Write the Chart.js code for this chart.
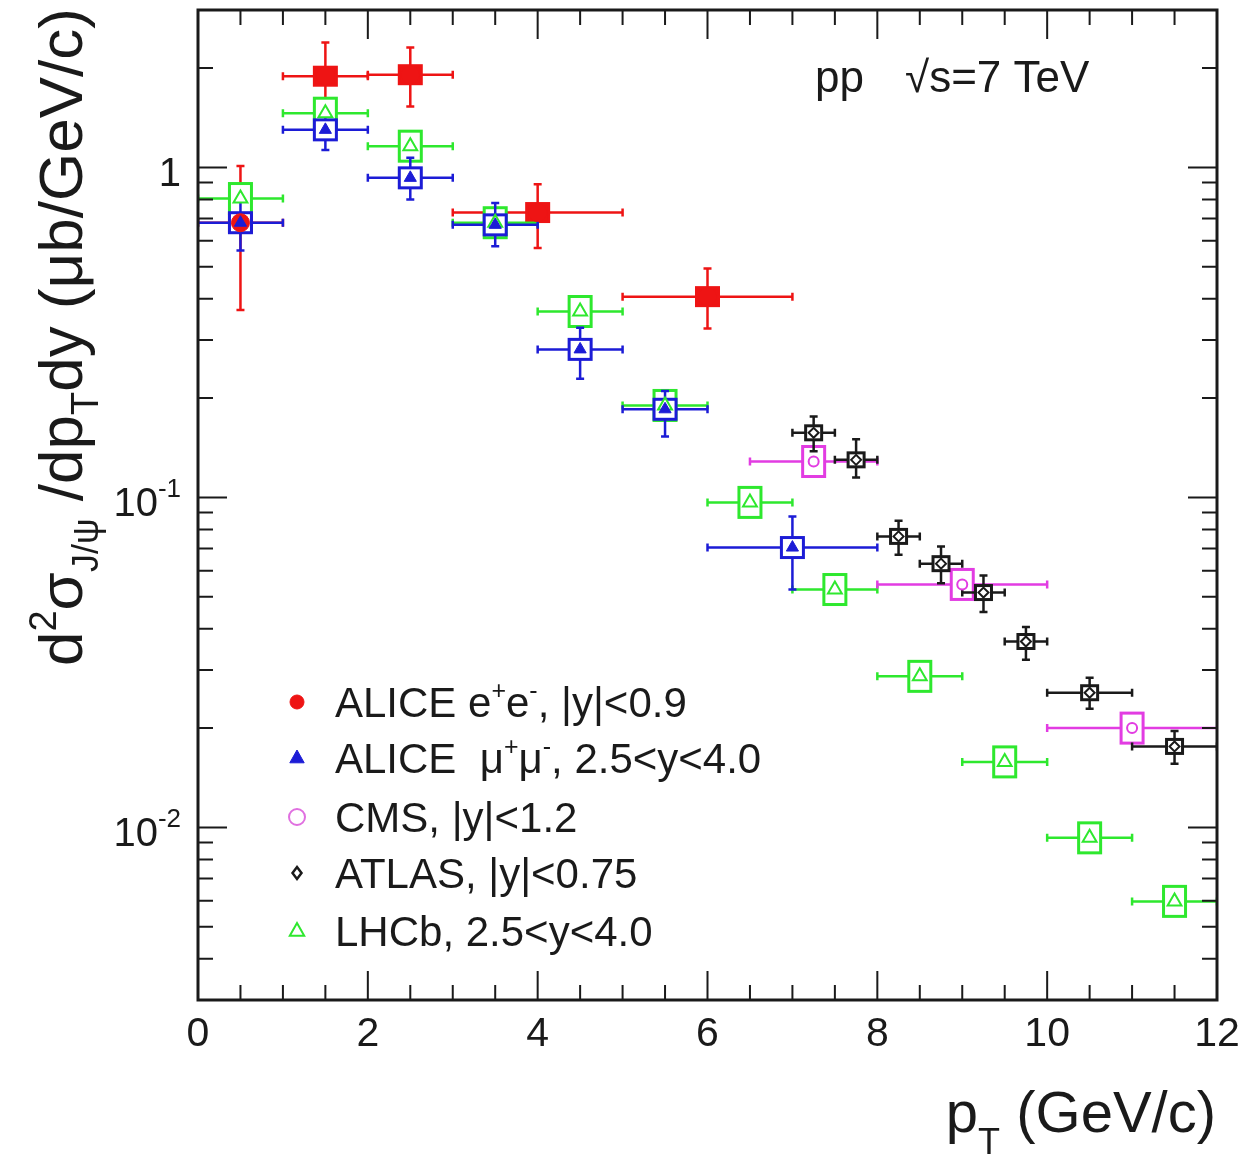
<!DOCTYPE html>
<html>
<head>
<title>J/psi cross section vs pT</title>
<script src="https://cdn.jsdelivr.net/npm/chart.js@4.4.0/dist/chart.umd.min.js"></script>
<style>
    body { margin: 0; background: #fff; }
    #wrap { width: 1249px; height: 1157px; position: relative; }
</style>
</head>
<body>
<div id="wrap"><canvas id="chart"></canvas></div>
<script>
// ALICE e+e-, |y|<0.9
const aliceEeX   = [0.5, 1.5, 2.5, 4, 6];
const aliceEeY   = [0.68, 1.89, 1.91, 0.73, 0.406];
const aliceEeXlo = [0, 1, 2, 3, 5];
const aliceEeXhi = [1, 2, 3, 5, 7];
const aliceEeYlo = [0.37, 1.50, 1.53, 0.57, 0.325];
const aliceEeYhi = [1.01, 2.39, 2.31, 0.89, 0.494];

// ALICE mu+mu-, 2.5<y<4.0
const aliceMmX   = [0.5, 1.5, 2.5, 3.5, 4.5, 5.5, 7];
const aliceMmY   = [0.68, 1.30, 0.93, 0.67, 0.281, 0.185, 0.0705];
const aliceMmXlo = [0, 1, 2, 3, 4, 5, 6];
const aliceMmXhi = [1, 2, 3, 4, 5, 6, 8];
const aliceMmYlo = [0.56, 1.13, 0.80, 0.577, 0.229, 0.153, 0.0526];
const aliceMmYhi = [0.80, 1.47, 1.07, 0.78, 0.327, 0.21, 0.0875];

// CMS, |y|<1.2
const cmsX   = [7.25, 9, 11];
const cmsY   = [0.1285, 0.0545, 0.020];
const cmsXlo = [6.5, 8, 10];
const cmsXhi = [8, 10, 13];
const cmsYlo = [0.122, 0.0515, 0.0189];
const cmsYhi = [0.135, 0.0575, 0.0211];

// ATLAS, |y|<0.75
const atlasX   = [7.25, 7.75, 8.25, 8.75, 9.25, 9.75, 10.5, 11.5];
const atlasY   = [0.157, 0.130, 0.0762, 0.063, 0.0515, 0.0366, 0.0256, 0.0176];
const atlasXlo = [7, 7.5, 8, 8.5, 9, 9.5, 10, 11];
const atlasXhi = [7.5, 8, 8.5, 9, 9.5, 10, 11, 12];
const atlasYlo = [0.138, 0.115, 0.067, 0.055, 0.045, 0.0322, 0.0229, 0.0156];
const atlasYhi = [0.176, 0.150, 0.085, 0.071, 0.058, 0.0405, 0.0284, 0.0196];

// LHCb, 2.5<y<4.0
const lhcbX   = [0.5, 1.5, 2.5, 3.5, 4.5, 5.5, 6.5, 7.5, 8.5, 9.5, 10.5, 11.5];
const lhcbY   = [0.805, 1.46, 1.16, 0.68, 0.366, 0.19, 0.0966, 0.0526, 0.0287, 0.0158, 0.0093, 0.00597];
const lhcbXlo = [0, 1, 2, 3, 4, 5, 6, 7, 8, 9, 10, 11];
const lhcbXhi = [1, 2, 3, 4, 5, 6, 7, 8, 9, 10, 11, 12];
const lhcbYlo = [0.75, 1.37, 1.09, 0.64, 0.345, 0.178, 0.091, 0.0495, 0.027, 0.0149, 0.0087, 0.0056];
const lhcbYhi = [0.86, 1.55, 1.23, 0.72, 0.388, 0.202, 0.103, 0.0558, 0.0305, 0.0167, 0.0099, 0.00635];

// axis
const xTicks = [0, 2, 4, 6, 8, 10, 12];
const yTicks = [0.01, 0.1, 1];
const yTickLabels = [['10', '-2'], ['10', '-1'], ['1', '']];

const FONT = '"Liberation Sans", Arial, Helvetica, sans-serif';
const INK = '#1a1a1a';

// drawing order: first = bottom
const series = [
    { name: 'ee', x: aliceEeX, y: aliceEeY, xlo: aliceEeXlo, xhi: aliceEeXhi, ylo: aliceEeYlo, yhi: aliceEeYhi,
      color: '#ee1414', boxW: 11, boxH: 9, boxFill: '#ee1414', style: 'circle', r: 9, fill: '#ee1414', bw: 1 },
    { name: 'lhcb', x: lhcbX, y: lhcbY, xlo: lhcbXlo, xhi: lhcbXhi, ylo: lhcbYlo, yhi: lhcbYhi,
      color: '#2ee82e', boxW: 11, boxH: 15, boxFill: '#fff', style: 'triangle', r: 8, fill: '#fff', bw: 2 },
    { name: 'mm', x: aliceMmX, y: aliceMmY, xlo: aliceMmXlo, xhi: aliceMmXhi, ylo: aliceMmYlo, yhi: aliceMmYhi,
      color: '#1c1cd6', boxW: 11, boxH: 10, boxFill: '#fff', style: 'triangle', r: 7, fill: '#1c1cd6', bw: 1 },
    { name: 'cms', x: cmsX, y: cmsY, xlo: cmsXlo, xhi: cmsXhi, ylo: cmsYlo, yhi: cmsYhi,
      color: '#e23ce2', boxW: 11, boxH: 15, boxFill: '#fff', style: 'circle', r: 5, fill: '#fff', bw: 2 },
    { name: 'atlas', x: atlasX, y: atlasY, xlo: atlasXlo, xhi: atlasXhi, ylo: atlasYlo, yhi: atlasYhi,
      color: '#1a1a1a', boxW: 8, boxH: 7, boxFill: '#fff', style: 'rectRot', r: 5, fill: '#fff', bw: 2 }
];

function drawRich(ctx, x, y, parts) {
    let cx = x;
    parts.forEach(p => {
        ctx.font = p.size + 'px ' + FONT;
        ctx.fillText(p.t, cx, y + (p.dy || 0));
        cx += ctx.measureText(p.t).width;
    });
    return cx;
}
function richWidth(ctx, parts) {
    let w = 0;
    parts.forEach(p => { ctx.font = p.size + 'px ' + FONT; w += ctx.measureText(p.t).width; });
    return w;
}

function marker(ctx, style, x, y, r, stroke, fill, lw) {
    ctx.save();
    ctx.strokeStyle = stroke; ctx.fillStyle = fill; ctx.lineWidth = lw;
    ctx.beginPath();
    if (style === 'circle') {
        ctx.arc(x, y, r, 0, Math.PI * 2);
    } else if (style === 'triangle') {
        ctx.moveTo(x, y - r);
        ctx.lineTo(x + r * 0.9, y + r * 0.6);
        ctx.lineTo(x - r * 0.9, y + r * 0.6);
        ctx.closePath();
    } else if (style === 'rectRot') {
        ctx.moveTo(x, y - r); ctx.lineTo(x + r * 0.75, y);
        ctx.lineTo(x, y + r); ctx.lineTo(x - r * 0.75, y);
        ctx.closePath();
    }
    ctx.fill(); ctx.stroke();
    ctx.restore();
}

// error bars + systematic boxes, drawn under the markers
const errorBars = {
    id: 'errorBars',
    beforeDatasetsDraw(chart) {
        const { ctx, chartArea: a, scales: { x, y } } = chart;
        ctx.save();
        ctx.beginPath();
        ctx.rect(a.left, a.top, a.right - a.left, a.bottom - a.top);
        ctx.clip();
        series.forEach(s => {
            s.x.forEach((xv, i) => {
                const px = x.getPixelForValue(xv), py = y.getPixelForValue(s.y[i]);
                const x0 = x.getPixelForValue(s.xlo[i]), x1 = x.getPixelForValue(s.xhi[i]);
                const y0 = y.getPixelForValue(s.ylo[i]), y1 = y.getPixelForValue(s.yhi[i]);
                ctx.strokeStyle = s.color;
                ctx.lineWidth = 2.5;
                ctx.beginPath();
                ctx.moveTo(x0, py); ctx.lineTo(x1, py);
                ctx.moveTo(px, y0); ctx.lineTo(px, y1);
                ctx.moveTo(x0, py - 4); ctx.lineTo(x0, py + 4);
                ctx.moveTo(x1, py - 4); ctx.lineTo(x1, py + 4);
                ctx.moveTo(px - 4, y0); ctx.lineTo(px + 4, y0);
                ctx.moveTo(px - 4, y1); ctx.lineTo(px + 4, y1);
                ctx.stroke();
                ctx.fillStyle = s.boxFill;
                ctx.fillRect(px - s.boxW, py - s.boxH, s.boxW * 2, s.boxH * 2);
                ctx.lineWidth = 3;
                ctx.strokeRect(px - s.boxW, py - s.boxH, s.boxW * 2, s.boxH * 2);
            });
        });
        ctx.restore();
    }
};

// frame, inside ticks, labels, titles, legend
const decor = {
    id: 'decor',
    afterDraw(chart) {
        const { ctx, chartArea: a, scales: { x, y } } = chart;
        ctx.save();
        ctx.strokeStyle = INK; ctx.fillStyle = INK;
        ctx.lineWidth = 2;
        ctx.beginPath();
        for (let v = 0; v <= 12.001; v += 0.5) {
            const px = x.getPixelForValue(v);
            const len = Math.abs(v % 2) < 1e-6 ? 29 : 15;
            ctx.moveTo(px, a.bottom); ctx.lineTo(px, a.bottom - len);
            ctx.moveTo(px, a.top); ctx.lineTo(px, a.top + len);
        }
        for (let d = 0.001; d < 10; d *= 10) {
            for (let m = 1; m <= 9; m++) {
                const v = d * m;
                if (v < y.min * 0.999 || v > y.max * 1.001) continue;
                const py = y.getPixelForValue(v);
                const len = m === 1 ? 29 : 15;
                ctx.moveTo(a.left, py); ctx.lineTo(a.left + len, py);
                ctx.moveTo(a.right, py); ctx.lineTo(a.right - len, py);
            }
        }
        ctx.stroke();
        ctx.lineWidth = 3;
        ctx.strokeRect(a.left, a.top, a.right - a.left, a.bottom - a.top);

        // x tick labels
        ctx.font = '41px ' + FONT;
        ctx.textAlign = 'center'; ctx.textBaseline = 'alphabetic';
        xTicks.forEach(v => ctx.fillText(String(v), x.getPixelForValue(v), 1046));

        // y tick labels
        ctx.textAlign = 'left';
        yTicks.forEach((v, i) => {
            const py = y.getPixelForValue(v);
            const parts = [{ t: yTickLabels[i][0], size: 40 }, { t: yTickLabels[i][1], size: 26, dy: -19 }];
            const w = richWidth(ctx, parts);
            drawRich(ctx, 181 - w, py + 19, parts);
        });

        // x title
        const xt = [{ t: 'p', size: 58 }, { t: 'T', size: 36, dy: 22 }, { t: ' (GeV/c)', size: 58 }];
        drawRich(ctx, 1216 - richWidth(ctx, xt), 1132, xt);

        // y title (rotated)
        ctx.save();
        ctx.translate(82, 666);
        ctx.rotate(-Math.PI / 2);
        drawRich(ctx, 0, 0, [
            { t: 'd', size: 62 }, { t: '2', size: 38, dy: -26 }, { t: 'σ', size: 62 },
            { t: 'J/ψ', size: 36, dy: 16 }, { t: ' /dp', size: 62 }, { t: 'T', size: 38, dy: 16 },
            { t: 'dy (μb/GeV/c)', size: 62 }
        ]);
        ctx.restore();

        // energy label
        ctx.font = '44px ' + FONT;
        ctx.fillText('pp', 815, 92);
        ctx.fillText('√s=7 TeV', 905, 92);

        // legend
        const rows = [
            [{ t: 'ALICE e', size: 42 }, { t: '+', size: 25, dy: -18 }, { t: 'e', size: 42 }, { t: '-', size: 25, dy: -18 }, { t: ', |y|<0.9', size: 42 }],
            [{ t: 'ALICE  μ', size: 42 }, { t: '+', size: 25, dy: -18 }, { t: 'μ', size: 42 }, { t: '-', size: 25, dy: -18 }, { t: ', 2.5<y<4.0', size: 42 }],
            [{ t: 'CMS, |y|<1.2', size: 42 }],
            [{ t: 'ATLAS, |y|<0.75', size: 42 }],
            [{ t: 'LHCb, 2.5<y<4.0', size: 42 }]
        ];
        const legendMarkers = [
            ['circle', 7, '#ee1414', '#ee1414', 1],
            ['triangle', 8, '#1c1cd6', '#1c1cd6', 1],
            ['circle', 8, '#e070e0', '#fff', 2],
            ['rectRot', 6, INK, '#fff', 2.5],
            ['triangle', 8, '#2ee82e', '#fff', 2]
        ];
        const baselines = [717, 773, 832, 888, 946];
        rows.forEach((parts, i) => {
            const m = legendMarkers[i];
            marker(ctx, m[0], 297, baselines[i] - 15, m[1], m[2], m[3], m[4]);
            ctx.fillStyle = INK;
            drawRich(ctx, 335, baselines[i], parts);
        });
        ctx.restore();
    }
};

new Chart(document.getElementById('chart'), {
    type: 'scatter',
    data: {
        // dataset 0 is painted last, so reverse to keep the first series at the bottom
        datasets: series.slice().reverse().map(s => ({
            label: s.name,
            data: s.x.map((v, i) => ({ x: v, y: s.y[i] })),
            pointStyle: s.style,
            pointRadius: s.r,
            backgroundColor: s.fill,
            borderColor: s.color,
            borderWidth: s.bw
        }))
    },
    options: {
        responsive: true,
        maintainAspectRatio: false,
        animation: false,
        layout: { padding: { left: 198, right: 32, top: 9, bottom: 157 } },
        plugins: { legend: { display: false }, tooltip: { enabled: false } },
        scales: {
            x: { type: 'linear', min: 0, max: 12, display: false },
            y: { type: 'logarithmic', min: 0.003, max: 3, display: false }
        }
    },
    plugins: [errorBars, decor]
});
</script>
</body>
</html>
